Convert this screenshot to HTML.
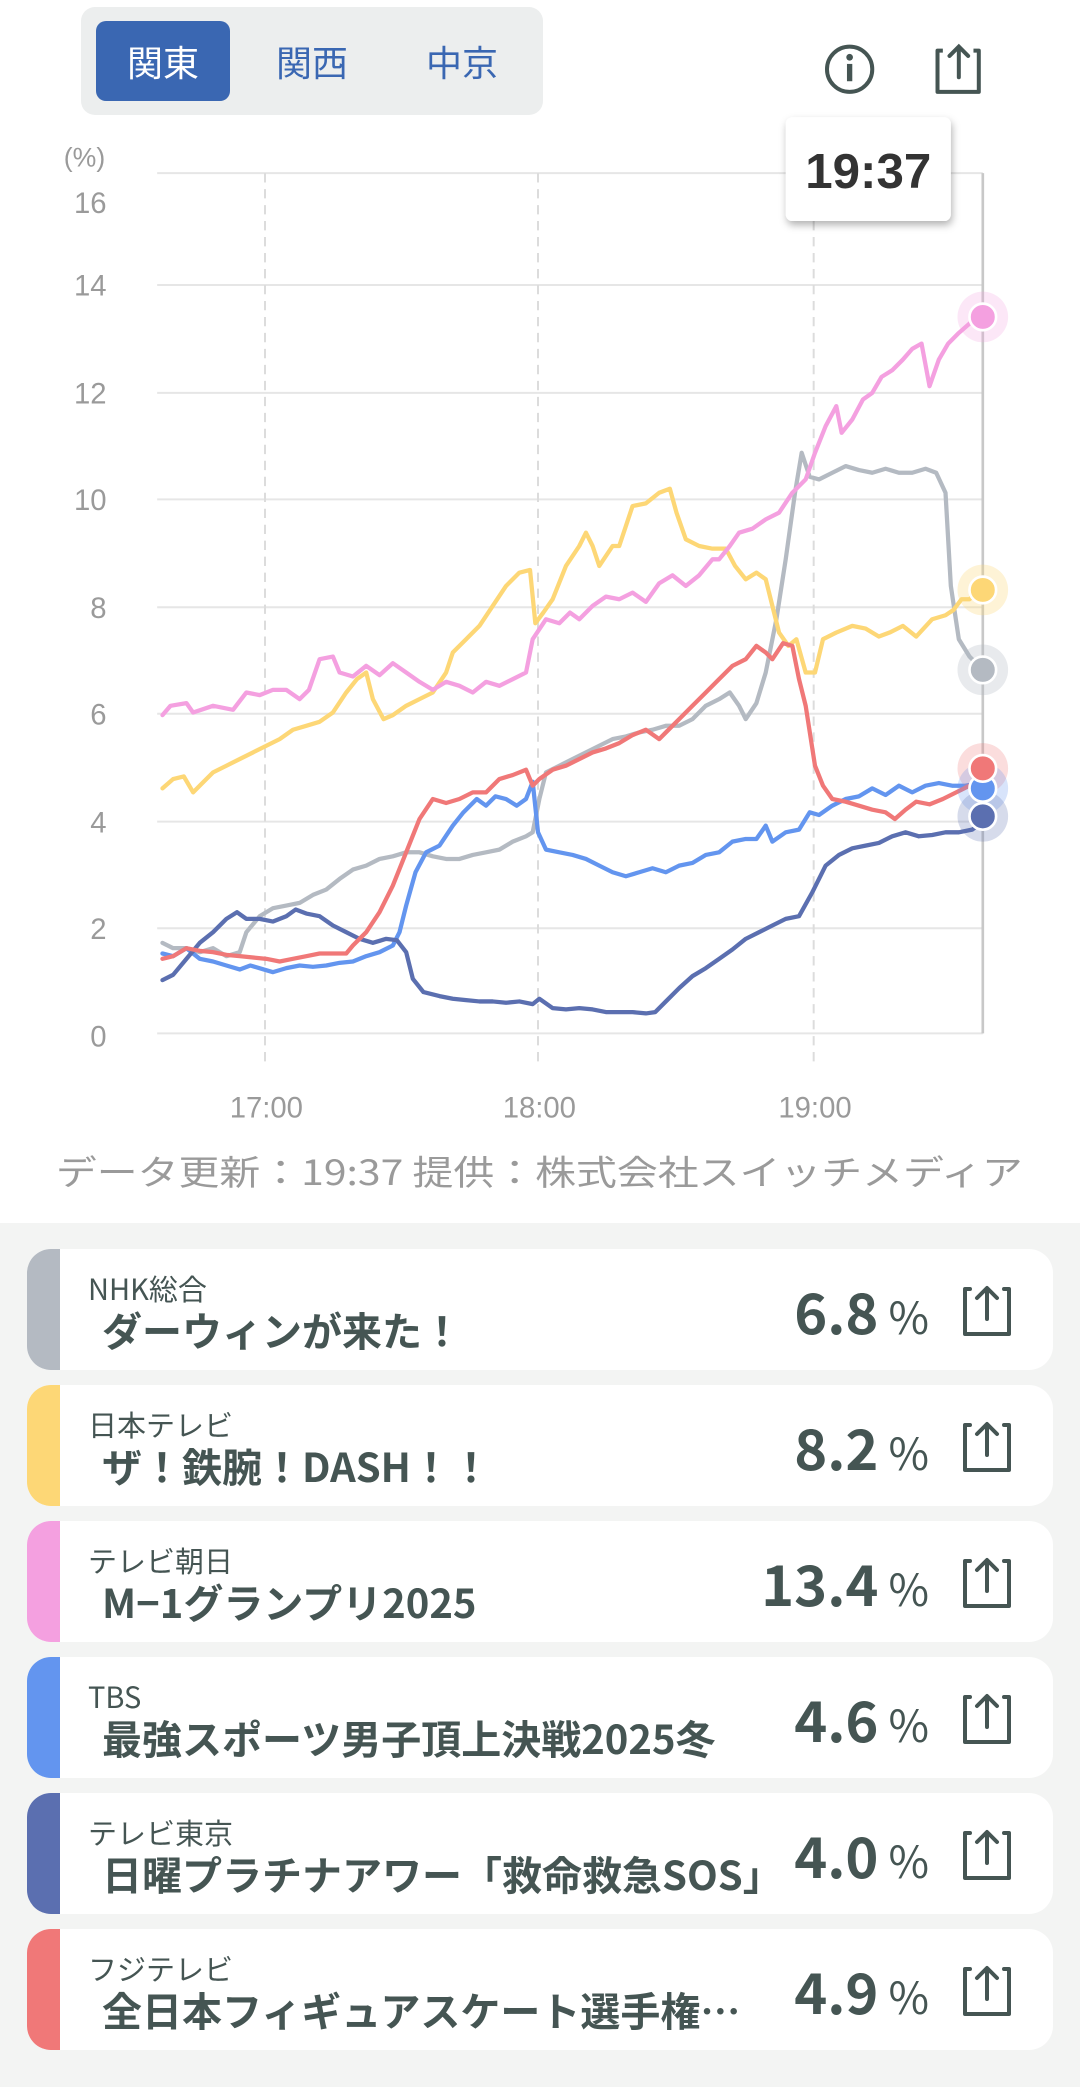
<!DOCTYPE html>
<html><head><meta charset="utf-8">
<style>
*{margin:0;padding:0;box-sizing:border-box}
body{width:1080px;height:2087px;background:#fff;position:relative;overflow:hidden;font-family:"Noto Sans CJK JP","Liberation Sans",sans-serif}
.seg{position:absolute;left:81px;top:7px;width:462px;height:108px;background:#eceeee;border-radius:14px}
.btn{position:absolute;top:14px;height:80px;line-height:80px;font-size:36px;color:#3a67b2;text-align:center;width:134px}
.btn.on{background:#3a67b2;color:#fff;border-radius:10px}
.bottom{position:absolute;left:0;top:1223px;width:1080px;height:864px;background:#f3f4f3}
.card{position:absolute;left:27px;width:1026px;height:121px;background:#fff;border-radius:24px;overflow:hidden}
.bar{position:absolute;left:0;top:0;width:33px;height:100%}
.ch{position:absolute;left:61px;top:19px;font-size:29px;line-height:40px;color:#455553;white-space:nowrap}
.ti{position:absolute;left:75px;top:54px;font-size:40px;line-height:52px;font-weight:bold;color:#455553;white-space:nowrap}
.val{position:absolute;right:124px;top:22px;font-size:56px;line-height:80px;font-weight:bold;color:#455553;white-space:nowrap}
.val span{font-size:44px;font-weight:normal;margin-left:10px}
.ic{position:absolute;left:933px;top:36px}
</style></head><body>
<div class="seg">
<div class="btn on" style="left:15px">関東</div>
<div class="btn" style="left:164px">関西</div>
<div class="btn" style="left:314px">中京</div>
</div>
<svg width="1080" height="1223" style="position:absolute;left:0;top:0">
<defs><filter id="sh" x="-20%" y="-20%" width="140%" height="150%"><feDropShadow dx="1" dy="3" stdDeviation="3" flood-opacity="0.3"/></filter></defs>
<g transform="scale(1.3317)">
<circle cx="638" cy="52" r="17" fill="none" stroke="#455553" stroke-width="3"/>
<circle cx="638" cy="43" r="2.5" fill="#455553"/>
<rect x="636" y="48" width="4" height="13" fill="#455553"/>
<path d="M708 38 h-4 v31 h31 v-31 h-4" fill="none" stroke="#455553" stroke-width="3" stroke-linejoin="round"/>
<path d="M720 58 v-22 M713 42 l7 -7 l7 7" fill="none" stroke="#455553" stroke-width="3" stroke-linecap="round"/>
<g stroke="#e6e6e6" stroke-width="1.5">
<line x1="118" x2="738" y1="130" y2="130"/><line x1="118" x2="738" y1="214" y2="214"/><line x1="118" x2="738" y1="295" y2="295"/><line x1="118" x2="738" y1="375" y2="375"/><line x1="118" x2="738" y1="456" y2="456"/><line x1="118" x2="738" y1="536" y2="536"/><line x1="118" x2="738" y1="617" y2="617"/><line x1="118" x2="738" y1="697" y2="697"/><line x1="118" x2="738" y1="776" y2="776"/>
</g>
<g stroke="#dcdcdc" stroke-width="1.5" stroke-dasharray="7,5">
<line x1="199" x2="199" y1="130" y2="800"/><line x1="404" x2="404" y1="130" y2="800"/><line x1="611" x2="611" y1="130" y2="800"/>
</g>
<line x1="738" x2="738" y1="130" y2="776" stroke="#c8c8c8" stroke-width="2"/>
<g font-size="22" fill="#9a9a9a" text-anchor="end" font-family="Liberation Sans, sans-serif">
<text x="79" y="125" font-size="20">(%)</text>
<text x="80" y="160">16</text><text x="80" y="222">14</text><text x="80" y="303">12</text><text x="80" y="383">10</text><text x="80" y="464">8</text><text x="80" y="544">6</text><text x="80" y="625">4</text><text x="80" y="705">2</text><text x="80" y="786">0</text>
</g>
<g font-size="22" fill="#9a9a9a" text-anchor="middle" font-family="Liberation Sans, sans-serif">
<text x="200" y="839">17:00</text><text x="405" y="839">18:00</text><text x="612" y="839">19:00</text>
</g>
<text x="42" y="890" font-size="26" fill="#9a9a9a" textLength="726" lengthAdjust="spacingAndGlyphs">データ更新：19:37 提供：株式会社スイッチメディア</text>
<g fill="none" stroke-width="3.2" stroke-linejoin="round" stroke-linecap="round">
<polyline stroke="#b4bac2" points="122,708 130,712 140,712 150,715 160,712 170,718 180,715 185,700 195,688 205,682 215,680 225,678 235,672 245,668 255,660 265,653 275,650 285,645 295,643 305,640 315,640 325,643 335,645 345,645 355,642 365,640 375,638 385,632 395,628 400,625 405,600 410,580 420,575 430,570 440,565 450,560 460,555 470,553 480,550 490,548 500,545 510,545 520,540 530,530 540,525 548,520 555,530 560,540 568,528 575,505 583,465 590,420 597,370 602,340 608,358 615,360 625,355 635,350 645,353 655,355 665,352 675,355 685,355 695,352 703,355 710,370 714,440 720,480 728,493 735,500"/>
<polyline stroke="#fdd776" points="122,592 130,585 138,583 145,595 152,588 160,580 170,575 180,570 190,565 200,560 210,555 220,548 230,545 240,542 250,535 260,520 268,510 275,505 280,525 288,540 295,537 305,530 315,525 325,520 335,505 340,490 350,480 360,470 370,455 380,440 390,430 398,428 402,468 408,460 415,450 425,425 435,410 440,400 445,410 450,425 460,410 465,410 475,380 485,378 495,370 503,367 508,385 515,405 525,410 535,412 545,412 552,425 560,435 568,430 575,435 580,455 585,475 592,485 598,480 605,505 612,505 618,480 628,475 640,470 650,472 660,478 668,475 678,470 688,478 700,465 710,462 716,458 722,450 728,450 735,443"/>
<polyline stroke="#f4a0e0" points="122,537 128,530 140,528 145,535 160,530 175,533 185,520 195,522 205,518 215,518 225,525 232,518 240,495 250,493 255,505 265,508 275,500 285,507 295,498 305,505 315,512 325,518 335,512 345,515 355,520 365,512 375,515 385,510 395,505 400,480 410,465 420,468 428,460 435,465 445,455 455,448 465,450 475,445 485,452 495,438 505,432 515,440 525,432 535,420 540,420 548,410 555,400 565,397 575,390 585,385 595,370 605,360 612,340 620,320 628,305 632,325 640,315 648,300 655,295 662,283 670,278 678,270 685,262 692,258 698,290 705,270 712,258 720,250 728,243 735,237"/>
<polyline stroke="#6395ef" points="122,716 130,718 140,712 150,720 160,722 170,725 180,728 188,725 198,728 205,730 215,727 225,725 235,726 245,725 255,723 265,722 275,718 285,715 295,710 300,700 305,680 312,655 320,640 330,635 340,620 348,610 358,600 365,605 372,598 380,600 388,605 395,600 400,587 404,625 410,638 420,640 430,642 440,645 450,650 460,655 470,658 480,655 490,652 500,655 510,650 520,648 530,642 540,640 550,632 560,630 568,630 575,620 580,632 590,625 600,623 608,610 615,612 625,605 635,600 645,598 655,592 665,597 675,590 685,595 695,590 705,588 715,590 725,590 735,588"/>
<polyline stroke="#5b6fb0" points="122,736 130,732 140,720 150,708 160,700 170,690 178,685 185,690 195,690 205,692 215,688 222,683 230,686 240,688 250,695 260,700 270,705 280,708 290,705 298,706 305,715 310,735 318,745 330,748 340,750 350,751 360,752 370,752 380,753 390,752 400,754 405,750 415,757 425,758 435,757 445,758 455,760 465,760 475,760 485,761 492,760 500,752 510,742 520,733 530,727 540,720 550,713 560,705 570,700 580,695 590,690 600,688 610,670 620,650 630,642 640,637 650,635 660,633 670,628 680,625 690,628 700,627 710,625 720,625 730,623 738,617"/>
<polyline stroke="#f07878" points="122,720 130,718 140,712 150,714 160,715 170,717 180,718 190,719 200,720 210,722 220,720 230,718 240,716 250,716 260,716 265,710 275,700 285,685 295,665 305,640 315,615 325,600 335,603 345,600 355,595 365,595 375,585 385,582 395,578 400,590 405,585 415,578 425,575 435,570 445,565 455,562 465,558 475,552 485,548 495,555 500,550 510,540 520,530 530,520 540,510 550,500 560,495 568,485 575,490 580,495 588,483 595,485 600,510 605,530 612,575 618,590 625,600 635,602 645,605 655,608 665,610 672,615 680,608 688,602 698,604 708,600 718,595 728,590 735,588"/>
</g>
<g>
<circle cx="738" cy="238" r="19" fill="#f4a0e0" opacity="0.25"/><circle cx="738" cy="443" r="19" fill="#fdd776" opacity="0.3"/><circle cx="738" cy="503" r="19" fill="#b4bac2" opacity="0.3"/><circle cx="738" cy="577" r="19" fill="#f07878" opacity="0.25"/><circle cx="738" cy="592" r="19" fill="#6395ef" opacity="0.25"/><circle cx="738" cy="613" r="19" fill="#5b6fb0" opacity="0.25"/>
<g stroke="#fff" stroke-width="2">
<circle cx="738" cy="238" r="10" fill="#f4a0e0"/><circle cx="738" cy="443" r="10" fill="#fdd776"/><circle cx="738" cy="503" r="10" fill="#b4bac2"/><circle cx="738" cy="592" r="10" fill="#6395ef"/><circle cx="738" cy="577" r="10" fill="#f07878"/><circle cx="738" cy="613" r="10" fill="#5b6fb0"/>
</g></g>
<rect x="590" y="88" width="124" height="78" rx="5" fill="#fff" filter="url(#sh)"/>
<text x="652" y="141" font-size="37" font-weight="bold" fill="#333" text-anchor="middle" font-family="Liberation Sans, sans-serif">19:37</text>
</g>
</svg>
<div class="bottom"></div>
<div class="card" style="top:1249px"><div class="bar" style="background:#b4bac2"></div><div class="ch">NHK総合</div><div class="ti">ダーウィンが来た！</div><div class="val">6.8<span>%</span></div><svg class="ic" width="54" height="54" viewBox="0 0 54 54"><path d="M10 4 h-5 v45 h44 v-45 h-5" fill="none" stroke="#455553" stroke-width="4" stroke-linejoin="round" stroke-linecap="round"/><path d="M27 34 v-30 M17 13 l10 -10 l10 10" fill="none" stroke="#455553" stroke-width="4" stroke-linecap="round" stroke-linejoin="round"/></svg></div>
<div class="card" style="top:1385px"><div class="bar" style="background:#fdd776"></div><div class="ch">日本テレビ</div><div class="ti">ザ！鉄腕！DASH！！</div><div class="val">8.2<span>%</span></div><svg class="ic" width="54" height="54" viewBox="0 0 54 54"><path d="M10 4 h-5 v45 h44 v-45 h-5" fill="none" stroke="#455553" stroke-width="4" stroke-linejoin="round" stroke-linecap="round"/><path d="M27 34 v-30 M17 13 l10 -10 l10 10" fill="none" stroke="#455553" stroke-width="4" stroke-linecap="round" stroke-linejoin="round"/></svg></div>
<div class="card" style="top:1521px"><div class="bar" style="background:#f4a0e0"></div><div class="ch">テレビ朝日</div><div class="ti">M−1グランプリ2025</div><div class="val">13.4<span>%</span></div><svg class="ic" width="54" height="54" viewBox="0 0 54 54"><path d="M10 4 h-5 v45 h44 v-45 h-5" fill="none" stroke="#455553" stroke-width="4" stroke-linejoin="round" stroke-linecap="round"/><path d="M27 34 v-30 M17 13 l10 -10 l10 10" fill="none" stroke="#455553" stroke-width="4" stroke-linecap="round" stroke-linejoin="round"/></svg></div>
<div class="card" style="top:1657px"><div class="bar" style="background:#6395ef"></div><div class="ch">TBS</div><div class="ti">最強スポーツ男子頂上決戦2025冬</div><div class="val">4.6<span>%</span></div><svg class="ic" width="54" height="54" viewBox="0 0 54 54"><path d="M10 4 h-5 v45 h44 v-45 h-5" fill="none" stroke="#455553" stroke-width="4" stroke-linejoin="round" stroke-linecap="round"/><path d="M27 34 v-30 M17 13 l10 -10 l10 10" fill="none" stroke="#455553" stroke-width="4" stroke-linecap="round" stroke-linejoin="round"/></svg></div>
<div class="card" style="top:1793px"><div class="bar" style="background:#5b6fb0"></div><div class="ch">テレビ東京</div><div class="ti">日曜プラチナアワー「救命救急SOS」</div><div class="val">4.0<span>%</span></div><svg class="ic" width="54" height="54" viewBox="0 0 54 54"><path d="M10 4 h-5 v45 h44 v-45 h-5" fill="none" stroke="#455553" stroke-width="4" stroke-linejoin="round" stroke-linecap="round"/><path d="M27 34 v-30 M17 13 l10 -10 l10 10" fill="none" stroke="#455553" stroke-width="4" stroke-linecap="round" stroke-linejoin="round"/></svg></div>
<div class="card" style="top:1929px"><div class="bar" style="background:#f07878"></div><div class="ch">フジテレビ</div><div class="ti">全日本フィギュアスケート選手権…</div><div class="val">4.9<span>%</span></div><svg class="ic" width="54" height="54" viewBox="0 0 54 54"><path d="M10 4 h-5 v45 h44 v-45 h-5" fill="none" stroke="#455553" stroke-width="4" stroke-linejoin="round" stroke-linecap="round"/><path d="M27 34 v-30 M17 13 l10 -10 l10 10" fill="none" stroke="#455553" stroke-width="4" stroke-linecap="round" stroke-linejoin="round"/></svg></div>
</body></html>
